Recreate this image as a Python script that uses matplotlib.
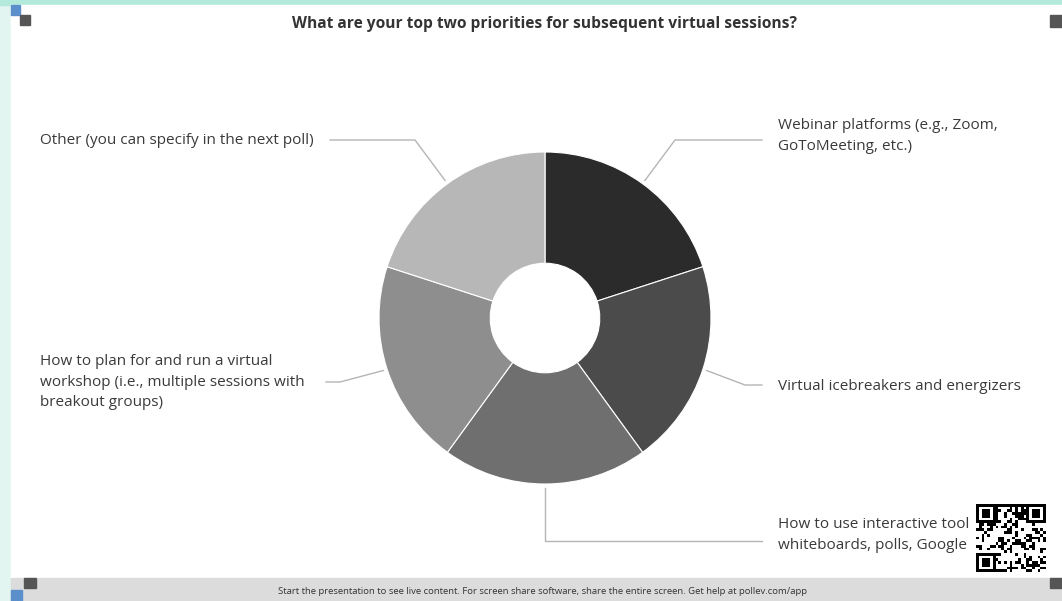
import numpy as np
import matplotlib
matplotlib.use("Agg")
import matplotlib.pyplot as plt
from matplotlib.patches import Rectangle

plt.rcParams["font.family"] = ["Open Sans", "DejaVu Sans"]

title = "What are your top two priorities for subsequent virtual sessions?"
labels = [
    "Webinar platforms (e.g., Zoom,\nGoToMeeting, etc.)",
    "Virtual icebreakers and energizers",
    "How to use interactive tool\nwhiteboards, polls, Google",
    "How to plan for and run a virtual\nworkshop (i.e., multiple sessions with\nbreakout groups)",
    "Other (you can specify in the next poll)",
]
votes = [1, 1, 1, 1, 1]
colors = ["#2b2b2b", "#4b4b4b", "#6f6f6f", "#8e8e8e", "#b7b7b7"]
footer = ("Start the presentation to see live content. For screen share software, "
          "share the entire screen. Get help at ")

W, H = 1062, 601
cx, cy, R = 545, 318, 166

fig = plt.figure(figsize=(W / 100, H / 100), dpi=100)
fig.patch.set_facecolor("#e2f5f0")

# overlay in pixel coords for frame, labels and connectors
ov = fig.add_axes([0, 0, 1, 1])
ov.set_xlim(0, W)
ov.set_ylim(H, 0)
ov.axis("off")
ov.add_patch(Rectangle((0, 0), W, 5, color="#b4eadb", zorder=0))
ov.add_patch(Rectangle((11, 5), W - 11, 573, color="white", zorder=0))
ov.add_patch(Rectangle((11, 578), W - 11, 23, color="#dcdcdc", zorder=0))
ov.add_patch(Rectangle((11, 5), 9, 10, color="#5b8fcc", zorder=1))
ov.add_patch(Rectangle((20, 15), 10, 10, color="#555555", zorder=1))
ov.add_patch(Rectangle((1050, 15), 12, 12, color="#555555", zorder=1))
ov.add_patch(Rectangle((24, 578), 12, 10, color="#555555", zorder=1))
ov.add_patch(Rectangle((11, 590), 11, 11, color="#5b8fcc", zorder=1))
ov.add_patch(Rectangle((1050, 578), 12, 10, color="#555555", zorder=1))

ov.text(cx, 24, title, ha="center", va="center", fontsize=11.2, fontweight="bold",
        color="#333333")
ov.text(543, 591, footer + "pollev.com/app", ha="center", va="center",
        fontsize=6.8, color="#333333")

# donut
pax = fig.add_axes([(cx - R) / W, (H - cy - R) / H, 2 * R / W, 2 * R / H])
wedges, _ = pax.pie(votes, colors=colors, startangle=90, counterclock=False,
                    wedgeprops=dict(width=0.67, edgecolor="white", linewidth=0.8))
pax.set_xlim(-1, 1)
pax.set_ylim(-1, 1)
pax.set_aspect("auto")

# connectors: elbow points and text anchors
elbows = [(675, 140, 762), (745, 385, 762), (545, 541, 762), (340, 382, 326), (415, 140, 330)]
text_pos = [(778, 136, "left"), (778, 387, "left"), (778, 535, "left"),
            (40, 382, "left"), (40, 140, "left")]

for w, lab, (ex, ey, hx), (tx, ty, ha) in zip(wedges, labels, elbows, text_pos):
    mid = np.deg2rad((w.theta1 + w.theta2) / 2)
    sx = cx + (R + 4) * np.cos(mid)
    sy = cy - (R + 4) * np.sin(mid)
    ov.plot([sx, ex, hx], [sy, ey, ey], color="#b5b5b5", lw=1, zorder=2)
    ov.text(tx, ty, lab, ha=ha, va="center", fontsize=11, color="#3a3a3a",
            linespacing=1.5, zorder=3)

# QR-like code block covering the end of the truncated label
ii, jj = np.indices((25, 25))
qr = ((ii * 7 + jj * 3) ^ (ii * jj)) % 3 == 0
for (a, b) in [(0, 0), (0, 18), (18, 0)]:
    qr[a:a + 7, b:b + 7] = True
    qr[a + 1:a + 6, b + 1:b + 6] = False
    qr[a + 2:a + 5, b + 2:b + 5] = True
ov.add_patch(Rectangle((972, 502), 78, 72, color="white", zorder=4))
ov.imshow(~qr, cmap="gray", extent=(976, 1046, 572, 504), zorder=5, interpolation="nearest")
ov.set_xlim(0, W)
ov.set_ylim(H, 0)
ov.set_aspect("auto")

fig.savefig("out.png", dpi=100)
